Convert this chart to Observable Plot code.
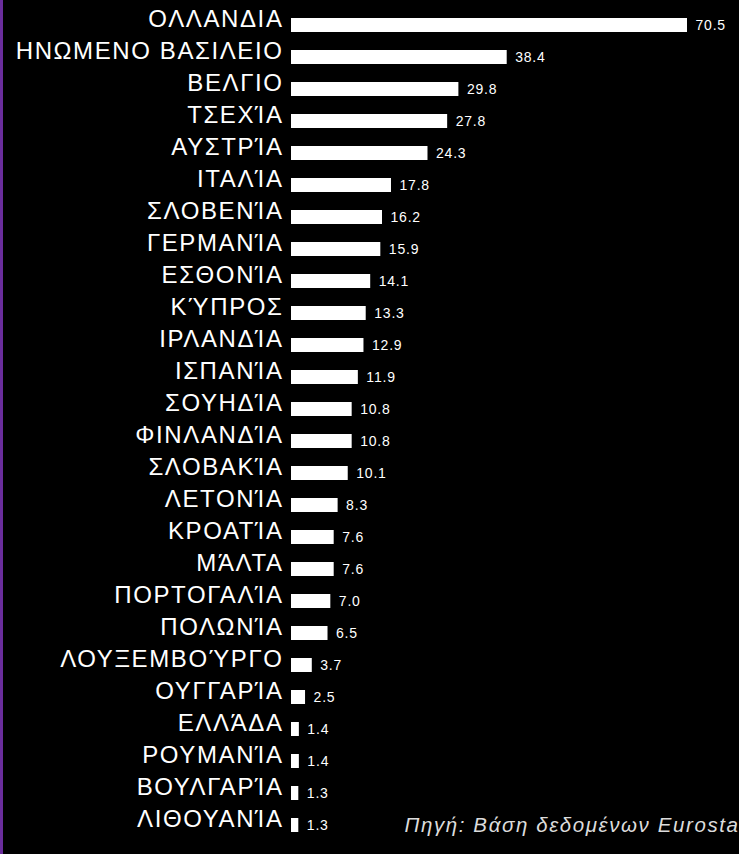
<!DOCTYPE html>
<html>
<head>
<meta charset="utf-8">
<script src="https://cdn.jsdelivr.net/npm/d3@7"></script>
<script src="https://cdn.jsdelivr.net/npm/@observablehq/plot@0.6"></script>
<style>
  html, body { margin: 0; padding: 0; background: #000; overflow: hidden; }
  #wrap { position: relative; width: 739px; height: 854px; background: #000; overflow: hidden; }
  #edge { position: absolute; left: 0; top: 0; width: 3px; height: 854px; background: #6a2d9c; }
</style>
</head>
<body>
<div id="wrap"><div id="edge"></div></div>
<script>
const countries = ["ΟΛΛΑΝΔΙΑ","ΗΝΩΜΕΝΟ ΒΑΣΙΛΕΙΟ","ΒΕΛΓΙΟ","ΤΣΕΧΊΑ","ΑΥΣΤΡΊΑ","ΙΤΑΛΊΑ","ΣΛΟΒΕΝΊΑ","ΓΕΡΜΑΝΊΑ","ΕΣΘΟΝΊΑ","ΚΎΠΡΟΣ","ΙΡΛΑΝΔΊΑ","ΙΣΠΑΝΊΑ","ΣΟΥΗΔΊΑ","ΦΙΝΛΑΝΔΊΑ","ΣΛΟΒΑΚΊΑ","ΛΕΤΟΝΊΑ","ΚΡΟΑΤΊΑ","ΜΆΛΤΑ","ΠΟΡΤΟΓΑΛΊΑ","ΠΟΛΩΝΊΑ","ΛΟΥΞΕΜΒΟΎΡΓΟ","ΟΥΓΓΑΡΊΑ","ΕΛΛΆΔΑ","ΡΟΥΜΑΝΊΑ","ΒΟΥΛΓΑΡΊΑ","ΛΙΘΟΥΑΝΊΑ"];
const values = [70.5,38.4,29.8,27.8,24.3,17.8,16.2,15.9,14.1,13.3,12.9,11.9,10.8,10.8,10.1,8.3,7.6,7.6,7.0,6.5,3.7,2.5,1.4,1.4,1.3,1.3];
const sourceText = "Πηγή: Βάση δεδομένων Eurostat";

const data = countries.map((c, i) => ({country: c, value: values[i]}));
const fmt = d3.format(".1f");
const FONT = "Liberation Sans";

const chart = Plot.plot({
  width: 739,
  height: 854,
  marginLeft: 291,
  marginRight: 0,
  marginTop: 18,
  marginBottom: 3,
  style: {background: "#000", color: "#fff", fontFamily: FONT},
  x: {domain: [0, 70.5], range: [291, 687], axis: null},
  y: {domain: countries, paddingInner: 0.573, paddingOuter: 0, align: 0, axis: null},
  marks: [
    Plot.barX(data, {x: "value", y: "country", fill: "#fff"}),
    Plot.text(data, {x: 0, y: "country", text: "country", textAnchor: "end", dx: -8, dy: -6, fill: "#fff", fontSize: 24, fontFamily: FONT, fontWeight: 400}),
    Plot.text(data, {x: "value", y: "country", text: d => fmt(d.value), textAnchor: "start", dx: 8, fill: "#fff", fontSize: 14, fontFamily: FONT}),
    Plot.text([sourceText], {frameAnchor: "bottom-left", text: d => d, dx: 113, dy: -20, textAnchor: "start", fill: "#dcdcdc", fontSize: 20.5, fontStyle: "italic", fontFamily: FONT})
  ]
});
const groups = chart.querySelectorAll('g[aria-label="text"]');
if (groups[0]) groups[0].style.letterSpacing = "1.6px";
if (groups[1]) groups[1].style.letterSpacing = "0.8px";
if (groups[2]) groups[2].style.letterSpacing = "1.6px";
chart.style.position = "absolute";
chart.style.left = "0";
chart.style.top = "0";
document.getElementById("wrap").appendChild(chart);
document.getElementById("wrap").appendChild(document.getElementById("edge"));
</script>
</body>
</html>
